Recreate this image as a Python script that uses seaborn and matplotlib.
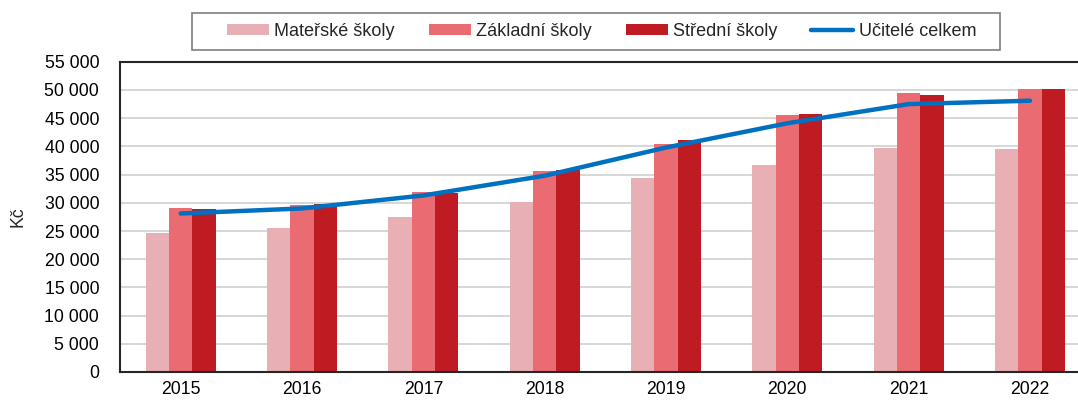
import matplotlib
matplotlib.use("Agg")
import matplotlib.pyplot as plt
import matplotlib.ticker as mticker
from matplotlib.patches import Patch, Rectangle
from matplotlib.lines import Line2D
import seaborn as sns
import pandas as pd

years = ["2015", "2016", "2017", "2018", "2019", "2020", "2021", "2022"]
materske = [24600, 25500, 27400, 30200, 34400, 36700, 39700, 39500]
zakladni = [29000, 29600, 31900, 35700, 40400, 45600, 49500, 50200]
stredni = [28850, 29800, 31800, 35800, 41100, 45700, 49100, 50200]
ucitele = [28100, 29000, 31300, 34800, 39800, 44100, 47500, 48100]
series_names = ["Mateřské školy", "Základní školy", "Střední školy", "Učitelé celkem"]
y_ticks = list(range(0, 55001, 5000))

colors = ["#E8B0B4", "#EA6B72", "#BE1B22"]
line_color = "#0070C0"

sns.set_theme(style="white")
plt.rcParams["font.family"] = ["Liberation Sans", "DejaVu Sans"]
plt.rcParams["font.size"] = 12.7

df = pd.DataFrame({
    "rok": years * 3,
    "mzda": materske + zakladni + stredni,
    "typ": [series_names[0]] * 8 + [series_names[1]] * 8 + [series_names[2]] * 8,
})
df_line = pd.DataFrame({"pos": list(range(len(years))), "mzda": ucitele})

W, H = 1078, 401
fig = plt.figure(figsize=(W / 100, H / 100), dpi=100)
ax = fig.add_axes([120 / W, 29 / H, 970.7 / W, 310.2 / H])

sns.barplot(data=df, x="rok", y="mzda", hue="typ", palette=colors,
            width=0.577, ax=ax, legend=False, edgecolor="none", saturation=1)
sns.lineplot(data=df_line, x="pos", y="mzda", color=line_color, linewidth=3.2,
             ax=ax, legend=False, sort=False, solid_capstyle="round")

ax.set_xlim(-0.5, 7.5)
ax.set_ylim(0, 55000)
ax.set_yticks(y_ticks)
ax.yaxis.set_major_formatter(mticker.FuncFormatter(lambda v, p: f"{int(v):,}".replace(",", " ")))
ax.grid(axis="y", color="#D0D0D0", linewidth=1.2)
ax.set_axisbelow(True)
ax.tick_params(axis="both", length=0, labelsize=12.7, colors="black")
ax.tick_params(axis="y", pad=15)
ax.tick_params(axis="x", pad=6.5)
ax.set_xlabel("")
ax.set_ylabel("Kč", fontsize=12.7, labelpad=13)
for s in ["left", "bottom", "top"]:
    ax.spines[s].set_visible(True)
    ax.spines[s].set_color("#262626")
    ax.spines[s].set_linewidth(1.5)
ax.spines["right"].set_visible(False)

handles = [Patch(facecolor=c, edgecolor="none") for c in colors]
handles.append(Line2D([0], [0], color=line_color, linewidth=3.2, solid_capstyle="round"))
leg = fig.legend(handles, series_names, ncol=4, loc="center left",
                 bbox_to_anchor=(226.6 / W, 1 - 31.5 / H),
                 frameon=False, fontsize=13, borderpad=0, borderaxespad=0,
                 handlelength=2.33, handleheight=0.55, handletextpad=0.28,
                 columnspacing=1.9)
fig.patches.append(Rectangle((192 / W, 1 - 50 / H), 808 / W, 37 / H,
                             transform=fig.transFigure, fill=False,
                             edgecolor="#7F7F7F", linewidth=1.2))

fig.savefig("out.png", dpi=100)
